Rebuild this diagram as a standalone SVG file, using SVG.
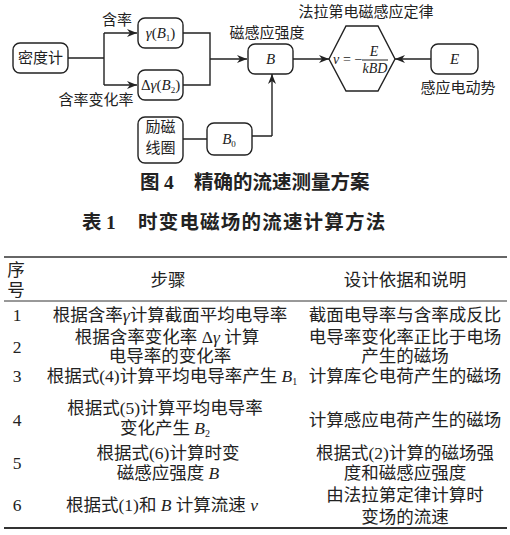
<svg xmlns="http://www.w3.org/2000/svg" width="510" height="535" viewBox="0 0 510 535">
<style>
text{font-family:"Liberation Serif","Noto Sans CJK SC",serif;fill:#222}
.d{font-size:15px}
.t{font-size:17.5px}
.c{text-anchor:middle}
.i{font-style:italic}
.cap{font-family:"Noto Sans CJK SC","Liberation Sans",sans-serif;font-weight:bold;font-size:19.5px}
.box{fill:#fff;stroke:#222;stroke-width:1.4}
.ln{fill:none;stroke:#222;stroke-width:1.4}
.rule{stroke:#333}
</style>
<defs>
<marker id="ah" markerWidth="11" markerHeight="8" refX="10" refY="4" orient="auto" markerUnits="userSpaceOnUse">
<path d="M0,0 L10,4 L0,8 L3,4 z" fill="#222"/>
</marker>
</defs>
<rect width="510" height="535" fill="#fff"/>

<g id="connectors">
<path class="ln" d="M68,58 H104 M104,33 V85 M183,33 H210 V85 H183 M183,139 H207 M252,136 H272"/>
<path class="ln" d="M104,33 H137" marker-end="url(#ah)"/>
<path class="ln" d="M104,85 H137" marker-end="url(#ah)"/>
<path class="ln" d="M210,59 H247" marker-end="url(#ah)"/>
<path class="ln" d="M293,59 H329" marker-end="url(#ah)"/>
<path class="ln" d="M431,59 H395" marker-end="url(#ah)"/>
<path class="ln" d="M272,136 V74" marker-end="url(#ah)"/>
</g>

<g id="density">
<rect class="box" x="13" y="43" width="55" height="30" rx="7"/>
<text class="d c" x="40.5" y="63">密度计</text>
</g>
<g id="gammaB1">
<rect class="box" x="138" y="18" width="45" height="30" rx="7"/>
<text class="d c" x="160.5" y="38"><tspan class="i">γ</tspan>(<tspan class="i">B</tspan><tspan font-size="9" dy="3">1</tspan><tspan dy="-3">)</tspan></text>
</g>
<g id="dgammaB2">
<rect class="box" x="138" y="70" width="45" height="30" rx="7"/>
<text class="d c" x="160.5" y="90">Δ<tspan class="i">γ</tspan>(<tspan class="i">B</tspan><tspan font-size="9" dy="3">2</tspan><tspan dy="-3">)</tspan></text>
</g>
<g id="coil">
<rect class="box" x="138" y="117" width="45" height="46" rx="7"/>
<text class="d c" x="160.5" y="132">励磁</text>
<text class="d c" x="160.5" y="153">线圈</text>
</g>
<g id="B0">
<rect class="box" x="207" y="123" width="45" height="32" rx="7"/>
<text class="d c" x="229" y="144"><tspan class="i">B</tspan><tspan font-size="9" dy="3">0</tspan></text>
</g>
<g id="B">
<rect class="box" x="248" y="44" width="45" height="30" rx="7"/>
<text class="d c i" x="270.5" y="64">B</text>
</g>
<g id="faraday">
<polygon class="box" points="329,59 346,26 378,26 395,59 378,91 346,91"/>
<text class="i" x="333" y="64" font-size="14">v</text>
<text x="343" y="64" font-size="14">= −</text>
<text class="i c" x="374" y="56" font-size="14">E</text>
<line x1="362" y1="60" x2="388" y2="60" stroke="#222" stroke-width="1"/>
<text class="i c" x="375" y="73" font-size="14">kBD</text>
</g>
<g id="E">
<rect class="box" x="431" y="44" width="47" height="30" rx="7"/>
<text class="d c i" x="454.5" y="64">E</text>
</g>

<g id="labels">
<text class="d c" x="117" y="25">含率</text>
<text class="d c" x="96" y="105">含率变化率</text>
<text class="d c" x="267" y="38">磁感应强度</text>
<text class="d c" x="366" y="17">法拉第电磁感应定律</text>
<text class="d c" x="458" y="93">感应电动势</text>
</g>

<g id="caption">
<text class="cap" x="140" y="189">图 <tspan font-family="Liberation Serif">4</tspan></text>
<text class="cap" x="194" y="189">精确的流速测量方案</text>
<text class="cap" x="82" y="229">表 <tspan font-family="Liberation Serif">1</tspan></text>
<text class="cap" x="138" y="229" letter-spacing="1.2">时变电磁场的流速计算方法</text>
</g>

<g id="table">
<line class="rule" x1="4" y1="257" x2="507" y2="257" stroke-width="1.6"/>
<line class="rule" x1="4" y1="301" x2="507" y2="301" stroke-width="1"/>
<line class="rule" x1="4" y1="528" x2="507" y2="528" stroke-width="2"/>

<text class="t c" x="16" y="276">序</text>
<text class="t c" x="16" y="296">号</text>
<text class="t c" x="168" y="286">步骤</text>
<text class="t c" x="405" y="286">设计依据和说明</text>

<text class="t c" x="17" y="321">1</text>
<text class="t c" x="170" y="321">根据含率<tspan class="i">γ</tspan>计算截面平均电导率</text>
<text class="t c" x="405" y="321">截面电导率与含率成反比</text>

<text class="t c" x="17" y="353">2</text>
<text class="t c" x="167" y="343">根据含率变化率 Δ<tspan class="i">γ</tspan> 计算</text>
<text class="t c" x="170" y="362">电导率的变化率</text>
<text class="t c" x="405" y="343">电导率变化率正比于电场</text>
<text class="t c" x="405" y="362">产生的磁场</text>

<text class="t c" x="17" y="382">3</text>
<text class="t c" x="172" y="382">根据式(4)计算平均电导率产生 <tspan class="i">B</tspan><tspan font-size="10" dy="3">1</tspan></text>
<text class="t c" x="405" y="382">计算库仑电荷产生的磁场</text>

<text class="t c" x="17" y="426">4</text>
<text class="t c" x="165" y="414">根据式(5)计算平均电导率</text>
<text class="t c" x="165" y="434">变化产生 <tspan class="i">B</tspan><tspan font-size="10" dy="3">2</tspan></text>
<text class="t c" x="405" y="426">计算感应电荷产生的磁场</text>

<text class="t c" x="17" y="469">5</text>
<text class="t c" x="168" y="459">根据式(6)计算时变</text>
<text class="t c" x="168" y="479">磁感应强度 <tspan class="i">B</tspan></text>
<text class="t c" x="405" y="459">根据式(2)计算的磁场强</text>
<text class="t c" x="405" y="479">度和磁感应强度</text>

<text class="t c" x="17" y="511">6</text>
<text class="t c" x="162" y="511">根据式(1)和 <tspan class="i">B</tspan> 计算流速 <tspan class="i">v</tspan></text>
<text class="t c" x="405" y="501">由法拉第定律计算时</text>
<text class="t c" x="405" y="523">变场的流速</text>
</g>
</svg>
